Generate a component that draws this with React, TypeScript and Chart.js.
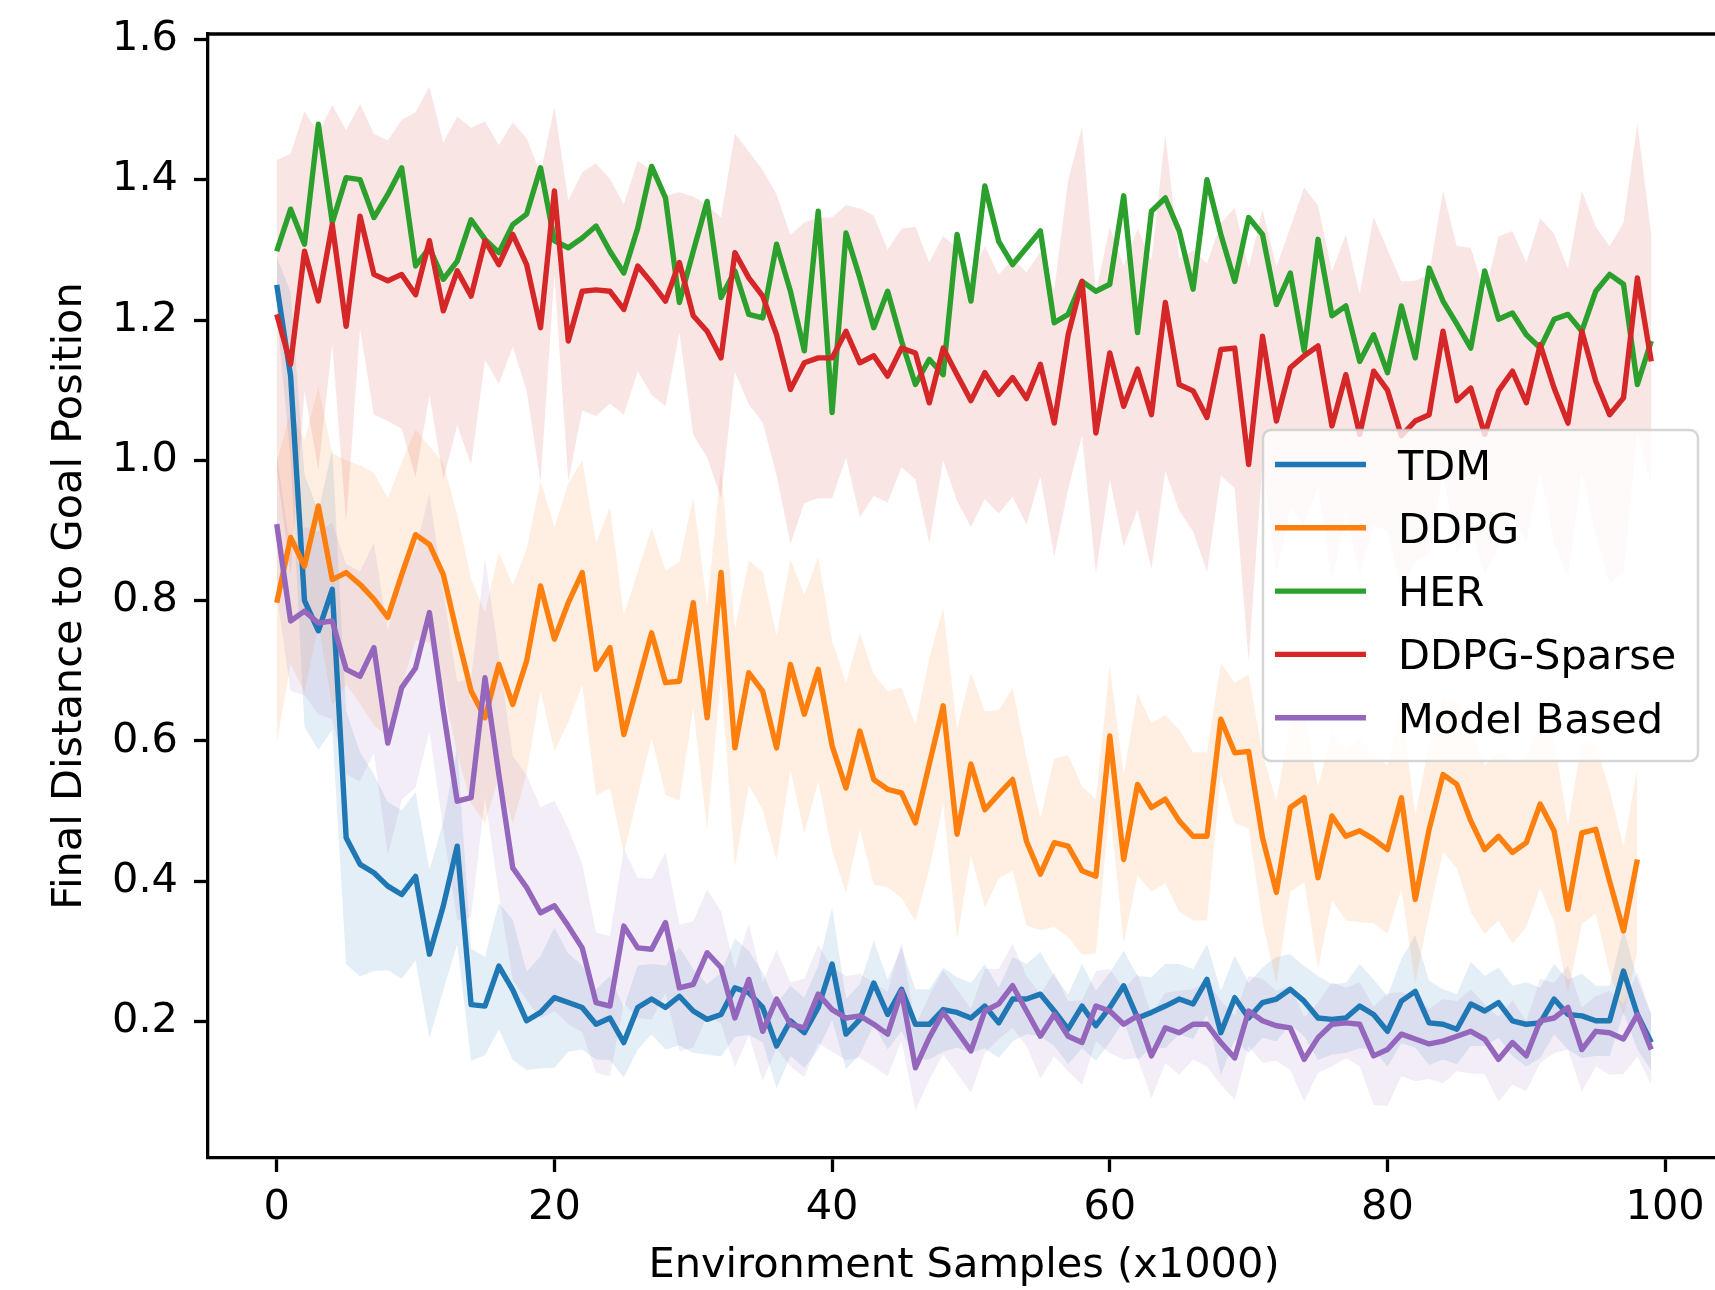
import React, { useEffect, useRef } from "react";
import { Chart, registerables } from "chart.js";

Chart.register(...registerables);

// ---------------- data ----------------
const seriesNames = ["TDM", "DDPG", "HER", "DDPG-Sparse", "Model Based"];

const xTicks = [0, 20, 40, 60, 80, 100];
const yTicks = [0.2, 0.4, 0.6, 0.8, 1.0, 1.2, 1.4, 1.6];

const tdm = [
  1.25, 1.12, 0.8, 0.757, 0.816, 0.462, 0.424, 0.412, 0.393, 0.381,
  0.407, 0.296, 0.365, 0.45, 0.224, 0.222, 0.279, 0.245, 0.201, 0.213,
  0.234, 0.227, 0.22, 0.196, 0.205, 0.17, 0.22, 0.232, 0.22, 0.236,
  0.215, 0.203, 0.21, 0.248, 0.241, 0.22, 0.165, 0.201, 0.184, 0.22,
  0.282, 0.182, 0.203, 0.255, 0.21, 0.246, 0.196, 0.196, 0.217, 0.213,
  0.205, 0.222, 0.198, 0.232, 0.232, 0.239, 0.215, 0.189, 0.222, 0.194,
  0.22, 0.251, 0.205, 0.213, 0.222, 0.232, 0.225, 0.26, 0.184, 0.234,
  0.205, 0.227, 0.232, 0.246, 0.229, 0.205, 0.203, 0.205, 0.222, 0.21,
  0.186, 0.229, 0.243, 0.198, 0.196, 0.189, 0.225, 0.215, 0.227, 0.201,
  0.196, 0.198, 0.232, 0.21, 0.208, 0.201, 0.201, 0.272, 0.21, 0.17,
];
const tdmStd = [
  0.04, 0.12, 0.18, 0.17, 0.2, 0.18, 0.16, 0.14, 0.12, 0.12,
  0.12, 0.12, 0.12, 0.14, 0.08, 0.07, 0.09, 0.1, 0.07, 0.08,
  0.1, 0.07, 0.06, 0.05, 0.06, 0.05, 0.06, 0.05, 0.06, 0.07,
  0.06, 0.05, 0.06, 0.07, 0.06, 0.05, 0.06, 0.05, 0.05, 0.06,
  0.08, 0.05, 0.05, 0.06, 0.05, 0.06, 0.05, 0.05, 0.06, 0.05,
  0.05, 0.06, 0.05, 0.06, 0.05, 0.06, 0.05, 0.05, 0.06, 0.05,
  0.05, 0.05, 0.06, 0.05, 0.06, 0.05, 0.05, 0.05, 0.06, 0.06,
  0.05, 0.05, 0.06, 0.05, 0.05, 0.06, 0.05, 0.05, 0.06, 0.05,
  0.05, 0.06, 0.08, 0.06, 0.05, 0.05, 0.06, 0.05, 0.05, 0.05,
  0.06, 0.05, 0.05, 0.05, 0.06, 0.05, 0.05, 0.06, 0.05, 0.04,
];

const ddpg = [
  0.797, 0.89, 0.849, 0.935, 0.83, 0.84, 0.823, 0.802, 0.776, 0.837,
  0.894, 0.88, 0.837, 0.752, 0.671, 0.633, 0.709, 0.652, 0.714, 0.821,
  0.745, 0.797, 0.84, 0.702, 0.733, 0.609, 0.681, 0.754, 0.683, 0.685,
  0.797, 0.633, 0.84, 0.59, 0.697, 0.671, 0.59, 0.709, 0.638, 0.702,
  0.593, 0.533, 0.614, 0.545, 0.531, 0.526, 0.483, 0.567, 0.65, 0.467,
  0.567, 0.502, 0.524, 0.545, 0.457, 0.41, 0.455, 0.45, 0.415, 0.407,
  0.607, 0.431, 0.538, 0.505, 0.517, 0.486, 0.464, 0.464, 0.631, 0.583,
  0.585, 0.462, 0.384, 0.505, 0.519, 0.405, 0.493, 0.464, 0.472, 0.46,
  0.445, 0.519, 0.374, 0.474, 0.552, 0.538, 0.486, 0.445, 0.464, 0.441,
  0.455, 0.51, 0.472, 0.36, 0.469, 0.474, 0.4, 0.329, 0.431,
];
const ddpgStd = [
  0.2, 0.18, 0.18, 0.17, 0.18, 0.16, 0.17, 0.18, 0.17, 0.16,
  0.15, 0.14, 0.16, 0.17, 0.16, 0.15, 0.16, 0.17, 0.16, 0.15,
  0.16, 0.17, 0.16, 0.18, 0.2, 0.17, 0.16, 0.15, 0.16, 0.17,
  0.15, 0.16, 0.15, 0.17, 0.16, 0.17, 0.16, 0.15, 0.17, 0.16,
  0.15, 0.15, 0.14, 0.15, 0.14, 0.15, 0.14, 0.15, 0.14, 0.15,
  0.13, 0.14, 0.12, 0.13, 0.12, 0.08, 0.12, 0.13, 0.12, 0.11,
  0.1, 0.12, 0.13, 0.12, 0.12, 0.13, 0.12, 0.12, 0.08, 0.1,
  0.11, 0.12, 0.13, 0.12, 0.12, 0.13, 0.12, 0.12, 0.13, 0.12,
  0.12, 0.13, 0.12, 0.12, 0.11, 0.12, 0.13, 0.12, 0.12, 0.13,
  0.12, 0.12, 0.13, 0.12, 0.13, 0.12, 0.13, 0.12, 0.13,
];

const her = [
  1.298, 1.358, 1.308, 1.479, 1.339, 1.403, 1.4, 1.346, 1.379, 1.417,
  1.277, 1.303, 1.258, 1.284, 1.343, 1.315, 1.296, 1.336, 1.351, 1.417,
  1.313, 1.303, 1.317, 1.334, 1.298, 1.267, 1.331, 1.419, 1.374, 1.225,
  1.298, 1.369, 1.232, 1.27, 1.208, 1.203, 1.308, 1.241, 1.156, 1.355,
  1.068, 1.324, 1.26, 1.189, 1.241, 1.17, 1.108, 1.144, 1.122, 1.322,
  1.227, 1.391, 1.312, 1.279, 1.303, 1.327, 1.196, 1.208, 1.255, 1.241,
  1.251, 1.377, 1.182, 1.355, 1.374, 1.327, 1.244, 1.4, 1.322, 1.255,
  1.346, 1.322, 1.222, 1.267, 1.156, 1.315, 1.206, 1.22, 1.141, 1.179,
  1.125, 1.22, 1.146, 1.274, 1.227, 1.194, 1.16, 1.27, 1.201, 1.21,
  1.179, 1.16, 1.201, 1.208, 1.184, 1.241, 1.265, 1.251, 1.108, 1.17,
];

const ddpgSparse = [
  1.208, 1.137, 1.298, 1.227, 1.336, 1.191, 1.348, 1.265, 1.256, 1.265,
  1.236, 1.313, 1.213, 1.27, 1.234, 1.313, 1.279, 1.322, 1.279, 1.189,
  1.384, 1.17, 1.241, 1.243, 1.241, 1.215, 1.277, 1.253, 1.227, 1.282,
  1.206, 1.184, 1.146, 1.296, 1.26, 1.234, 1.179, 1.101, 1.139, 1.146,
  1.146, 1.184, 1.139, 1.149, 1.12, 1.16, 1.153, 1.082, 1.16, 1.122,
  1.085, 1.125, 1.094, 1.118, 1.088, 1.137, 1.053, 1.179, 1.255, 1.039,
  1.153, 1.077, 1.13, 1.065, 1.225, 1.108, 1.099, 1.061, 1.158, 1.16,
  0.994, 1.177, 1.056, 1.132, 1.149, 1.163, 1.049, 1.122, 1.037, 1.127,
  1.1, 1.035, 1.056, 1.065, 1.184, 1.085, 1.103, 1.037, 1.099, 1.127,
  1.082, 1.165, 1.103, 1.053, 1.184, 1.113, 1.065, 1.089, 1.26, 1.141,
];
const ddpgSparseStd = [
  0.22, 0.3, 0.2, 0.24, 0.17, 0.28, 0.16, 0.2, 0.2, 0.22,
  0.26, 0.22, 0.24, 0.22, 0.24, 0.17, 0.17, 0.16, 0.18, 0.22,
  0.12, 0.2, 0.17, 0.18, 0.16, 0.15, 0.15, 0.16, 0.15, 0.1,
  0.17, 0.18, 0.2, 0.17, 0.18, 0.18, 0.2, 0.22, 0.2, 0.2,
  0.2, 0.18, 0.22, 0.2, 0.18, 0.17, 0.18, 0.2, 0.16, 0.18,
  0.18, 0.18, 0.17, 0.17, 0.18, 0.16, 0.19, 0.22, 0.22, 0.2,
  0.18, 0.2, 0.2, 0.22, 0.24, 0.18, 0.2, 0.22, 0.18, 0.2,
  0.28, 0.18, 0.22, 0.2, 0.24, 0.2, 0.22, 0.2, 0.2, 0.22,
  0.2, 0.22, 0.2, 0.2, 0.2, 0.22, 0.2, 0.2, 0.22, 0.2,
  0.2, 0.18, 0.22, 0.22, 0.2, 0.22, 0.24, 0.25, 0.22, 0.18,
];

const modelBased = [
  0.909, 0.771, 0.785, 0.768, 0.771, 0.702, 0.692, 0.733, 0.597, 0.676,
  0.704, 0.783, 0.643, 0.514, 0.519, 0.69, 0.552, 0.419, 0.391, 0.355,
  0.365, 0.336, 0.305, 0.227, 0.222, 0.336, 0.305, 0.303, 0.341, 0.248,
  0.253, 0.298, 0.277, 0.205, 0.26, 0.186, 0.232, 0.196, 0.191, 0.239,
  0.217, 0.205, 0.208, 0.196, 0.182, 0.243, 0.134, 0.177, 0.213, 0.186,
  0.158, 0.215, 0.225, 0.251, 0.215, 0.179, 0.21, 0.179, 0.17, 0.222,
  0.215, 0.196, 0.208, 0.151, 0.191, 0.184, 0.196, 0.196, 0.17, 0.148,
  0.215, 0.201, 0.194, 0.191, 0.146, 0.177, 0.196, 0.198, 0.196, 0.151,
  0.16, 0.182, 0.175, 0.168, 0.172, 0.179, 0.186, 0.175, 0.146, 0.17,
  0.151, 0.201, 0.205, 0.22, 0.16, 0.186, 0.184, 0.175, 0.21, 0.16,
];
const modelBasedStd = [
  0.1, 0.1, 0.12, 0.13, 0.14, 0.15, 0.15, 0.15, 0.16, 0.16,
  0.17, 0.17, 0.17, 0.17, 0.17, 0.17, 0.17, 0.16, 0.16, 0.15,
  0.15, 0.14, 0.12, 0.1, 0.1, 0.11, 0.1, 0.1, 0.1, 0.09,
  0.09, 0.09, 0.08, 0.07, 0.08, 0.07, 0.07, 0.06, 0.07, 0.07,
  0.06, 0.06, 0.06, 0.06, 0.06, 0.07, 0.06, 0.06, 0.06, 0.06,
  0.06, 0.06, 0.05, 0.06, 0.05, 0.06, 0.06, 0.05, 0.06, 0.05,
  0.06, 0.05, 0.06, 0.06, 0.05, 0.06, 0.05, 0.06, 0.06, 0.06,
  0.05, 0.06, 0.05, 0.06, 0.06, 0.05, 0.06, 0.05, 0.06, 0.07,
  0.08, 0.06, 0.06, 0.05, 0.06, 0.05, 0.06, 0.05, 0.06, 0.06,
  0.05, 0.06, 0.05, 0.06, 0.06, 0.05, 0.06, 0.05, 0.06, 0.05,
];

// ---------------- styling ----------------
const COLORS = ["#1f77b4", "#ff7f0e", "#2ca02c", "#d62728", "#9467bd"];
const FONT = "DejaVu Sans";
const FS = 41.5;
const LINE_W = 5.4;
const AXIS_W = 3.3;

const rgba = (hex: string, a: number) => {
  const n = parseInt(hex.slice(1), 16);
  return `rgba(${(n >> 16) & 255},${(n >> 8) & 255},${n & 255},${a})`;
};

const series = [
  { name: seriesNames[0], mean: tdm, std: tdmStd, color: COLORS[0] },
  { name: seriesNames[1], mean: ddpg, std: ddpgStd, color: COLORS[1] },
  { name: seriesNames[2], mean: her, std: null as number[] | null, color: COLORS[2] },
  { name: seriesNames[3], mean: ddpgSparse, std: ddpgSparseStd, color: COLORS[3] },
  { name: seriesNames[4], mean: modelBased, std: modelBasedStd, color: COLORS[4] },
];

function buildDatasets() {
  const bands: any[] = [];
  const lines: any[] = [];
  series.forEach((s, k) => {
    if (s.std) {
      const std = s.std;
      bands.push({
        label: s.name + " +std",
        data: s.mean.map((m, i) => ({ x: i, y: m + std[i] })),
        borderWidth: 0,
        borderColor: "transparent",
        pointRadius: 0,
        backgroundColor: rgba(s.color, 0.12),
        fill: "+1",
        order: 20 - k,
      });
      bands.push({
        label: s.name + " -std",
        data: s.mean.map((m, i) => ({ x: i, y: m - std[i] })),
        borderWidth: 0,
        borderColor: "transparent",
        pointRadius: 0,
        fill: false,
        order: 20 - k,
      });
    }
    lines.push({
      label: s.name,
      data: s.mean.map((m, i) => ({ x: i, y: m })),
      borderColor: s.color,
      borderWidth: LINE_W,
      pointRadius: 0,
      tension: 0,
      fill: false,
      borderJoinStyle: "round",
      borderCapStyle: "butt",
      order: 10 - k,
    });
  });
  return [...bands, ...lines];
}

const frameAndLegend = {
  id: "frameAndLegend",
  afterDraw(chart: any) {
    const { ctx, chartArea } = chart;
    ctx.save();
    // top & right spines
    ctx.strokeStyle = "#000";
    ctx.lineWidth = AXIS_W;
    ctx.beginPath();
    ctx.moveTo(chartArea.left - AXIS_W / 2, chartArea.top);
    ctx.lineTo(chartArea.right, chartArea.top);
    ctx.lineTo(chartArea.right, chartArea.bottom);
    ctx.stroke();

    // legend box (matplotlib style)
    const bx = 1263, by = 430, bw = 435, bh = 331;
    ctx.beginPath();
    (ctx as any).roundRect(bx, by, bw, bh, 8);
    ctx.fillStyle = "rgba(255,255,255,0.8)";
    ctx.fill();
    ctx.strokeStyle = "rgba(204,204,204,0.8)";
    ctx.lineWidth = 2.5;
    ctx.stroke();
    ctx.font = `${FS}px "${FONT}"`;
    ctx.textAlign = "left";
    ctx.textBaseline = "alphabetic";
    series.forEach((s, k) => {
      const y = 464.5 + 63.3 * k;
      ctx.beginPath();
      ctx.moveTo(1275, y);
      ctx.lineTo(1366, y);
      ctx.strokeStyle = s.color;
      ctx.lineWidth = LINE_W;
      ctx.lineCap = "butt";
      ctx.stroke();
      ctx.fillStyle = "#000";
      ctx.fillText(s.name, 1398, y + 15);
    });
    ctx.restore();
  },
};

const Y_MIN = 0.00542;
const Y_MAX = 1.6077;

export default function App() {
  const ref = useRef<HTMLCanvasElement>(null);
  useEffect(() => {
    document.body.style.margin = "0";
    const canvas = ref.current!;
    const chart = new Chart(canvas, {
      type: "line",
      data: { datasets: buildDatasets() },
      plugins: [frameAndLegend],
      options: {
        animation: false,
        responsive: false,
        devicePixelRatio: 1,
        layout: { padding: { top: 34, right: 2, bottom: 0, left: 0 } },
        plugins: {
          legend: { display: false },
          tooltip: { enabled: false },
          filler: { propagate: false },
        },
        scales: {
          x: {
            type: "linear",
            min: -4.95,
            max: 103.95,
            afterBuildTicks: (s: any) => {
              s.ticks = xTicks.map((v) => ({ value: v }));
            },
            afterFit: (s: any) => {
              s.height = 132;
            },
            grid: {
              display: true,
              drawOnChartArea: false,
              drawTicks: true,
              tickLength: 14,
              tickWidth: AXIS_W,
              tickColor: "#000",
              color: "#000",
            },
            border: { display: true, color: "#000", width: AXIS_W },
            ticks: {
              color: "#000",
              font: { family: FONT, size: FS, lineHeight: 1.2 },
              padding: 11,
              maxRotation: 0,
              autoSkip: false,
              callback: (v: any) => String(v),
            },
            title: {
              display: true,
              text: "Environment Samples (x1000)",
              color: "#000",
              font: { family: FONT, size: FS, lineHeight: 1.1 },
              padding: { top: 0, bottom: 0.8 },
            },
          },
          y: {
            type: "linear",
            min: Y_MIN,
            max: Y_MAX,
            afterBuildTicks: (s: any) => {
              s.ticks = yTicks.map((v) => ({ value: v }));
            },
            afterFit: (s: any) => {
              s.width = 208;
            },
            grid: {
              display: true,
              drawOnChartArea: false,
              drawTicks: true,
              tickLength: 14,
              tickWidth: AXIS_W,
              tickColor: "#000",
              color: "#000",
            },
            border: { display: true, color: "#000", width: AXIS_W },
            ticks: {
              color: "#000",
              font: { family: FONT, size: FS, lineHeight: 0.8 },
              padding: 16,
              autoSkip: false,
              callback: (v: any) => Number(v).toFixed(1),
            },
            title: {
              display: true,
              text: "Final Distance to Goal Position",
              color: "#000",
              font: { family: FONT, size: FS, lineHeight: 1.2 },
              padding: { top: 45, bottom: 0 },
            },
          },
        },
      },
    } as any);
    return () => chart.destroy();
  }, []);

  return (
    <div
      style={{
        position: "absolute",
        left: 0,
        top: 0,
        width: 1715,
        height: 1290,
        overflow: "hidden",
        background: "#fff",
      }}
    >
      <canvas ref={ref} width={1722} height={1290} style={{ display: "block", width: 1722, height: 1290 }} />
    </div>
  );
}
